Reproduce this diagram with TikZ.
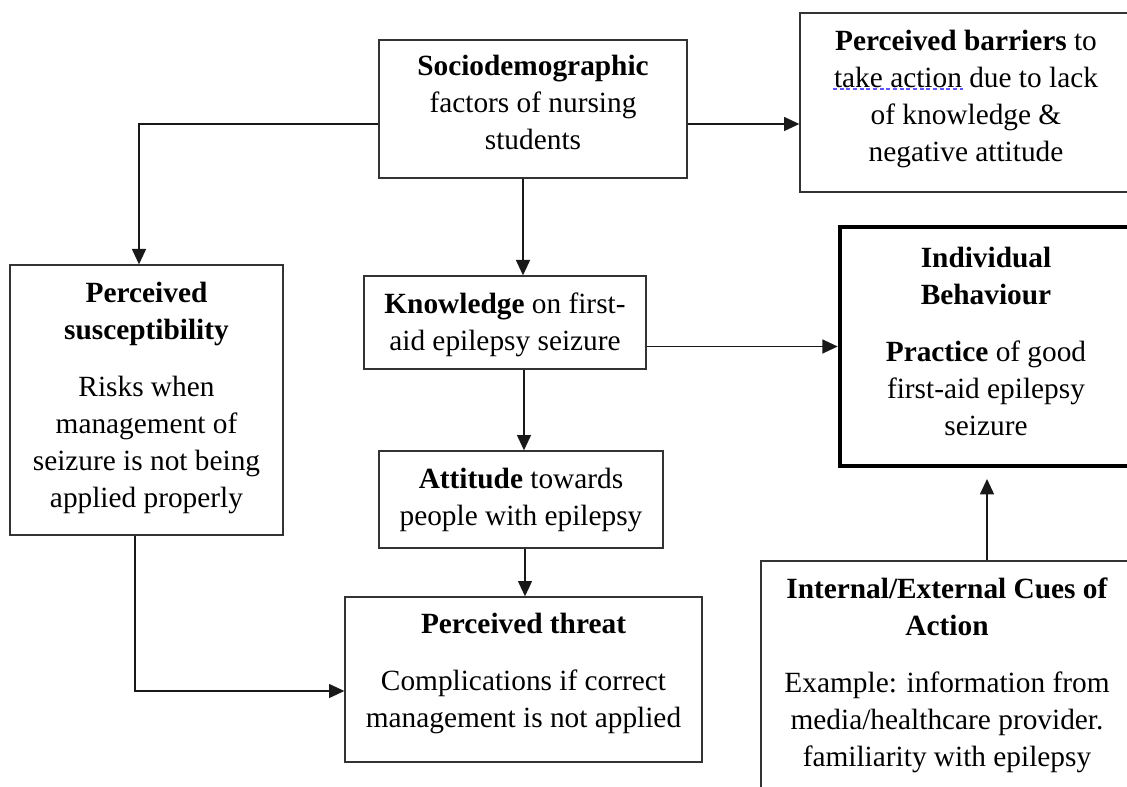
\documentclass[tikz,border=0pt]{standalone}
\usepackage{fontspec}
\setmainfont{Liberation Serif}
\usetikzlibrary{arrows.meta}
\begin{document}
\begin{tikzpicture}[x=0.75pt,y=-0.75pt,
  box/.style={draw=black!80, line width=1pt, minimum width=#1},
  txt/.style={align=center, inner sep=0pt, anchor=north, font=\fontsize{22}{27.75}\selectfont},
  arr/.style={draw=black!90, line width=1.1pt, -{Triangle[length=11.5pt,width=10.5pt]}}]
\useasboundingbox (0,0) rectangle (1127,787);
\clip (0,0) rectangle (1127,787);
% boxes
\node[box=231pt, minimum height=103.5pt] (socio) at (533,109) {};
\node[box=249pt, minimum height=134.25pt] (barr) at (966,102.5) {};
\node[box=204.75pt, minimum height=202.5pt] (susc) at (146.5,400) {};
\node[box=211.5pt, minimum height=69.75pt] (know) at (505,322.5) {};
\node[box=213pt, minimum height=72.75pt] (att) at (521,499.5) {};
\node[box=267.75pt, minimum height=123.75pt] (threat) at (523.5,679.5) {};
\node[box=219pt, minimum height=179.25pt, draw=black, line width=3.5pt] (indiv) at (986,346.5) {};
\node[box=279pt, minimum height=194.25pt] (cues) at (947,690.5) {};
% texts
\node[txt] (socioT) at (533,55) {\textbf{Sociodemographic}\\factors of nursing\\students};
\node[txt] (barrT) at (966,30) {\textbf{Perceived barriers} to\\take action due to lack\\of knowledge \&\\negative attitude};
\draw[densely dashed, line width=0.8pt, draw={rgb,255:red,95;green,85;blue,250}] (833,89) -- (963,89);
\node[txt] (suscT) at (146.5,282) {\textbf{Perceived}\\\textbf{susceptibility}\\[14.6pt]Risks when\\management of\\seizure is not being\\applied properly};
\node[txt] (knowT) at (505,293) {\textbf{Knowledge} on first-\\aid epilepsy seizure};
\node[txt] (attT) at (521,468) {\textbf{Attitude} towards\\people with epilepsy};
\node[txt] (threatT) at (523.5,613) {\textbf{Perceived threat}\\[14.6pt]Complications if correct\\management is not applied};
\node[txt] (indivT) at (986,247) {\textbf{Individual}\\\textbf{Behaviour}\\[14.6pt]\textbf{Practice} of good\\first-aid epilepsy\\seizure};
\node[txt] (cuesT) at (947,578) {\textbf{Internal/External Cues of}\\\textbf{Action}\\[14.6pt]Example: information from\\media/healthcare provider.\\familiarity with epilepsy};
% connectors
\coordinate (c1) at (139,124);
\coordinate (c2) at (523,0);
\coordinate (c3) at (524,0);
\coordinate (c4) at (525,0);
\coordinate (c5) at (0,346.5);
\coordinate (c6) at (135,691);
\coordinate (c7) at (987,0);
\draw[arr] (socio.west |- c1) -| (c1 |- susc.north);
\draw[arr] (socio.east |- c1) -- (barr.west |- c1);
\draw[arr] (c2 |- socio.south) -- (c2 |- know.north);
\draw[arr] (c3 |- know.south) -- (c3 |- att.north);
\draw[arr] (c4 |- att.south) -- (c4 |- threat.north);
\draw[arr] (know.east |- c5) -- (indiv.west |- c5);
\draw[arr] (c6 |- susc.south) |- (threat.west |- c6);
\draw[arr, shorten >=8pt] (c7 |- cues.north) -- (c7 |- indiv.south);
\end{tikzpicture}
\end{document}
